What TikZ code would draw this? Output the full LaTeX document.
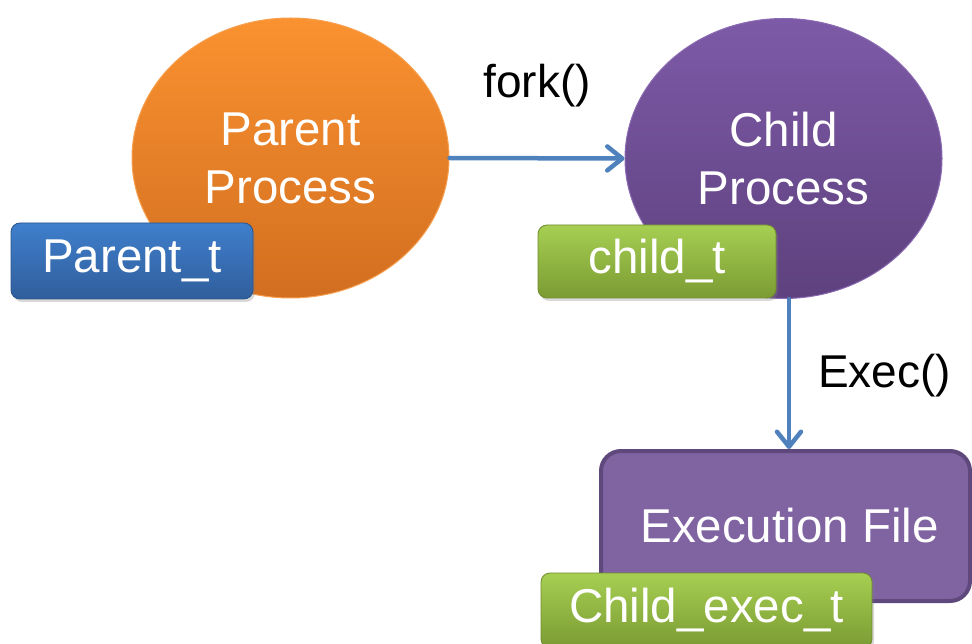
\documentclass[tikz,border=0pt]{standalone}
\usepackage{fontspec}
\setmainfont{Liberation Sans}
\usetikzlibrary{shapes.geometric,arrows.meta,shadows}
\definecolor{orTop}{HTML}{FA9230}
\definecolor{orBot}{HTML}{D26E20}
\definecolor{orEdge}{HTML}{F7A050}
\definecolor{puTop}{HTML}{7D5AA7}
\definecolor{puBot}{HTML}{5E417E}
\definecolor{puEdge}{HTML}{8A6AB2}
\definecolor{blTop}{HTML}{3F7FCC}
\definecolor{blBot}{HTML}{305E9C}
\definecolor{grTop}{HTML}{A6CF52}
\definecolor{grBot}{HTML}{7B9B33}
\definecolor{exFill}{HTML}{8064A2}
\definecolor{exEdge}{HTML}{5E487C}
\definecolor{arrowBlue}{HTML}{4F81BD}
\tikzset{
  bigtext/.style={font=\fontsize{47.5}{58}\selectfont},
  proc/.style={ellipse, bigtext, text=white, align=center, inner sep=0pt,
    minimum width=317pt, minimum height=280pt, line width=1pt},
  tagbox/.style={rectangle, rounded corners=9pt, bigtext, text=white, inner sep=0pt,
    drop shadow={shadow xshift=2pt, shadow yshift=-3pt, opacity=0.3}},
  bluetag/.style={tagbox, top color=blTop, bottom color=blBot, draw=blBot!90!black, line width=0.8pt},
  greentag/.style={tagbox, top color=grTop, bottom color=grBot, draw=grBot!90!black, line width=0.8pt},
  conn/.style={draw=arrowBlue, line width=4.5pt, line cap=round, line join=round,
    -{Straight Barb[round,length=15pt,width=24pt]}},
  lbl/.style={font=\fontsize{46}{58}\selectfont, text=black, inner sep=0pt}
}
\begin{document}
\begin{tikzpicture}[x=1pt,y=-1pt]
\useasboundingbox (0,0) rectangle (972,644);
% ellipses
\node[proc, top color=orTop, bottom color=orBot, draw=orEdge] (parent) at (290.5,158) {Parent\\Process};
\node[proc, top color=puTop, bottom color=puBot, draw=puEdge] (child) at (783.5,158.5) {Child\\Process};
% execution file box
\node[rectangle, rounded corners=20pt, fill=exFill, draw=exEdge, line width=4pt,
  minimum width=369pt, minimum height=150pt, bigtext, text=white, inner sep=0pt] (exec) at (785.5,526) {\hspace*{8pt}Execution File};
% connectors
\coordinate (exectop) at (789,449);
\draw[conn] (parent.east) -- (child.west);
\draw[conn] (child.south -| exectop) -- (exectop);
% labels
\node[lbl, anchor=base] (forklbl) at (537,98) {fork()};
\node[lbl, anchor=base west] (execlbl) at (818,387) {Exec()};
% tags
\node[bluetag, minimum width=242pt, minimum height=76pt] (parentt) at (132,261) {Parent\_t};
\node[greentag, minimum width=238pt, minimum height=73pt] (childt) at (657,261.5) {child\_t};
\node[greentag, minimum width=331pt, minimum height=75pt] (childexect) at (706.5,610.5) {Child\_exec\_t};
\end{tikzpicture}
\end{document}
